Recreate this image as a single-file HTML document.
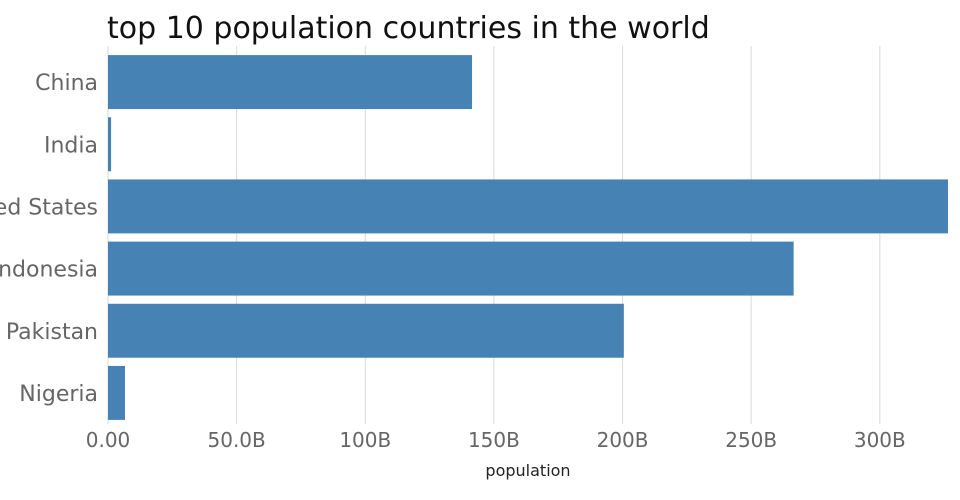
<!DOCTYPE html>
<html><head><meta charset="utf-8"><style>
html,body{margin:0;padding:0;background:#fff;width:960px;height:500px;overflow:hidden}
svg{display:block;font-family:"DejaVu Sans","Liberation Sans",sans-serif}
</style></head><body>
<svg id="chart" width="960" height="500">
<text x="107" y="38" font-size="30" fill="#111">top 10 population countries in the world</text>
<g id="grid"></g><g id="bars"></g><g id="ylabels"></g><g id="xlabels"></g>
<text x="528" y="476" font-size="16" fill="#222" text-anchor="middle">population</text>
</svg>
<script>
const categories = ["China","India","United States","Indonesia","Pakistan","Nigeria"];
const values = [141.5, 1.2, 326.5, 266.5, 200.5, 6.6];
const tickValues = [0,50,100,150,200,250,300];
const tickLabels = ["0.00","50.0B","100B","150B","200B","250B","300B"];
const NS="http://www.w3.org/2000/svg";
const x0=108, x1=948, y0=51, y1=424, xmax=326.5;
const xs=v=>x0+(x1-x0)*v/xmax;
const band=(y1-y0)/categories.length;
const ys=i=>y0+i*band;
function mk(t,a,p){const e=document.createElementNS(NS,t);for(const k in a)e.setAttribute(k,a[k]);p.appendChild(e);return e;}
const grid=document.getElementById('grid'),bars=document.getElementById('bars'),yl=document.getElementById('ylabels'),xl=document.getElementById('xlabels');
tickValues.forEach((v,i)=>{
 const l=mk('line',{x1:xs(v),x2:xs(v),y1:46,y2:y1,stroke:'#d9d9d9','stroke-width':1},grid);
 
 
 const t=mk('text',{x:xs(v),y:447,'font-size':20,fill:'#666','text-anchor':'middle'},xl);
 t.textContent=tickLabels[i];
 
 
});
categories.forEach((c,i)=>{
 const pad=band*0.066;
 const r=mk('rect',{x:x0,y:ys(i)+pad,width:xs(values[i])-x0,height:band-2*pad,fill:'#4682b4'},bars);
 
 
 const t=mk('text',{x:98,y:ys(i)+band/2+8,'font-size':22,fill:'#666','text-anchor':'end'},yl);
 t.textContent=c;
 
 
});
</script>
</body></html>
